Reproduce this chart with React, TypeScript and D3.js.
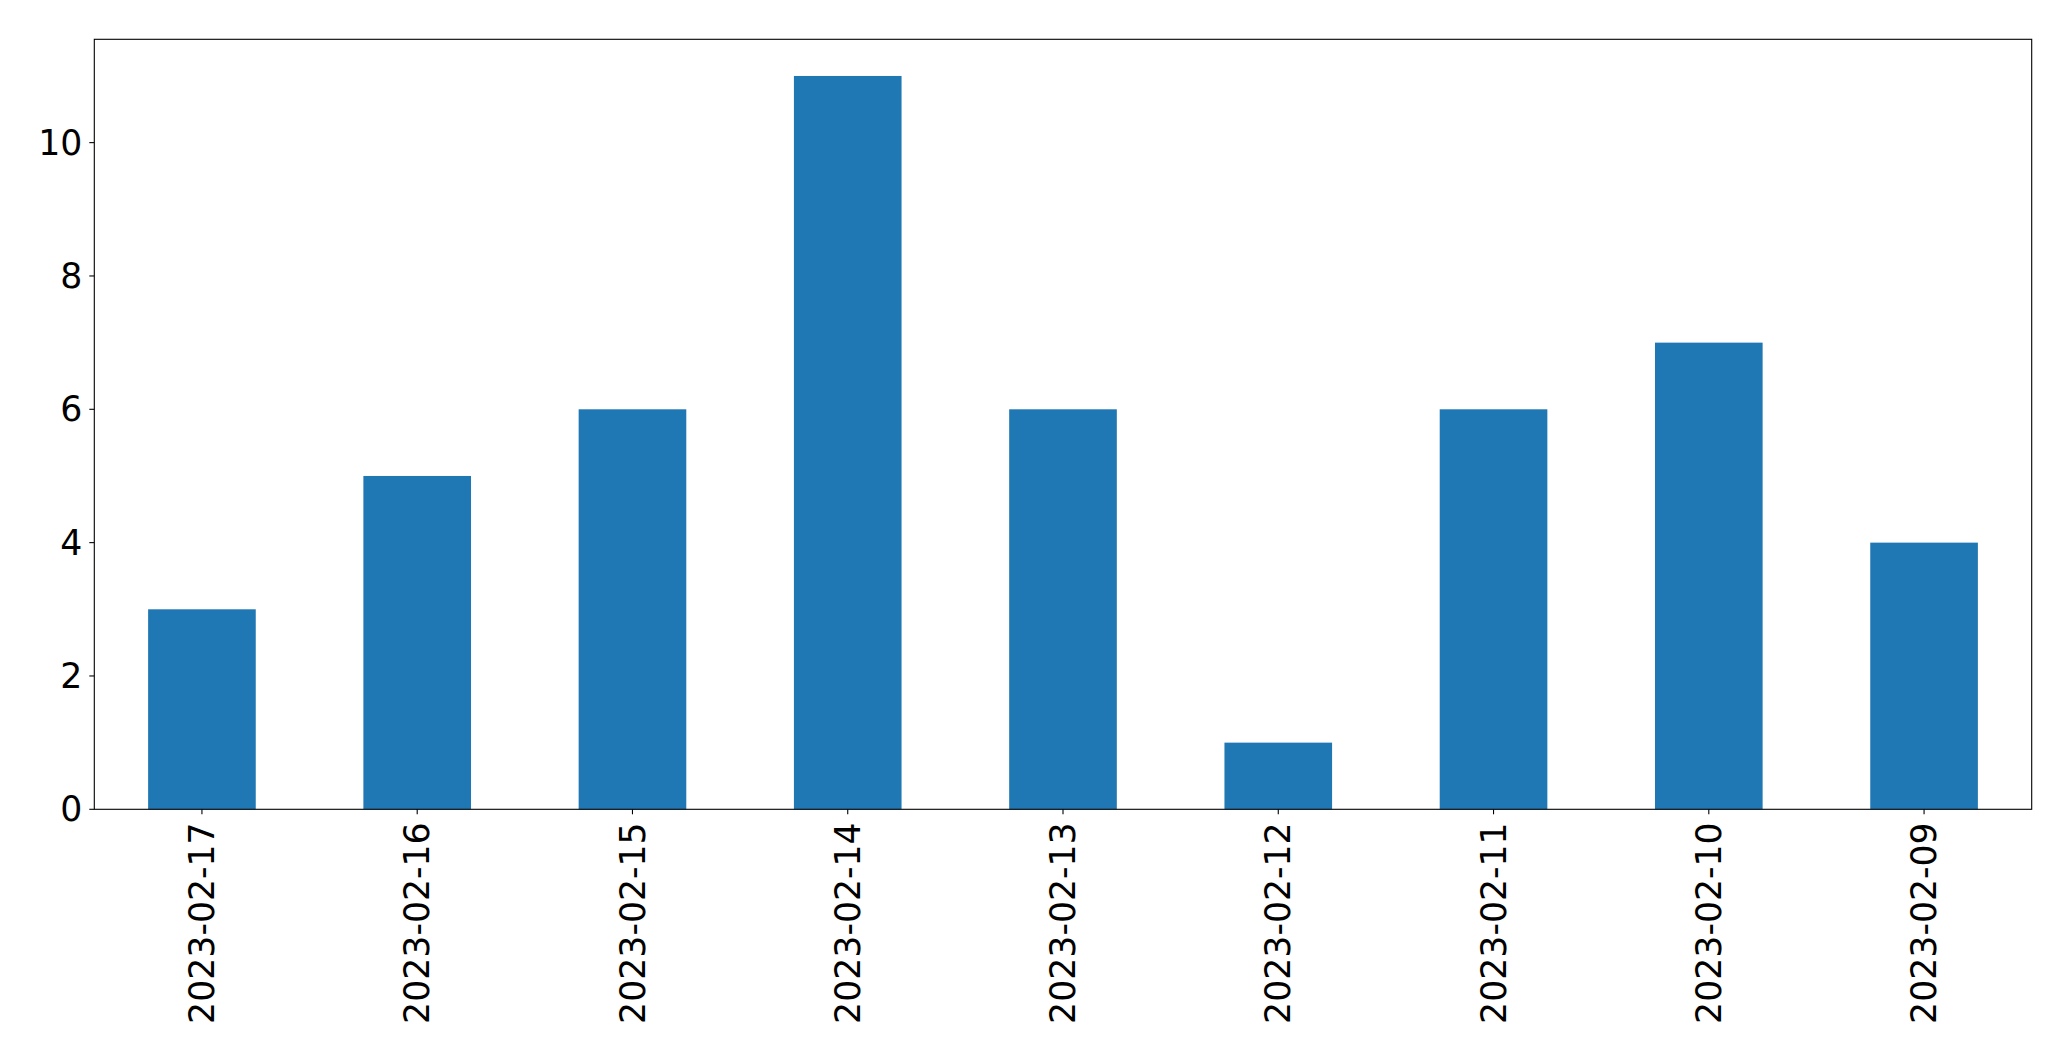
import React from "react";
import * as d3 from "d3";

const categories = ["2023-02-17","2023-02-16","2023-02-15","2023-02-14","2023-02-13","2023-02-12","2023-02-11","2023-02-10","2023-02-09"];
const values = [3,5,6,11,6,1,6,7,4];
const yTicks = [0,2,4,6,8,10];

const W = 2071, H = 1061;
const M = { left: 94.3, right: 2031.7, top: 39.3, bottom: 809.3 };

export default function App() {
  const x = d3.scaleLinear().domain([-0.5, categories.length - 0.5]).range([M.left, M.right]);
  const y = d3.scaleLinear().domain([0, d3.max(values)! * 1.05]).range([M.bottom, M.top]);
  const bw = x(0.25) - x(-0.25);
  const font = "'DejaVu Sans', sans-serif";
  const fs = 34.7;
  return (
    <svg width={W} height={H} style={{ position: "absolute", left: 0, top: 0, background: "#fff" }}>
      <rect x={0} y={0} width={W} height={H} fill="#fff" />
      {values.map((v, i) => (
        <rect key={i} x={x(i) - bw / 2} y={y(v)} width={bw} height={y(0) - y(v)} fill="#1f77b4" />
      ))}
      <rect x={M.left} y={M.top} width={M.right - M.left} height={M.bottom - M.top} fill="none" stroke="#000" strokeWidth={1.1} />
      {yTicks.map((t) => (
        <g key={t}>
          <line x1={M.left - 5} x2={M.left} y1={y(t)} y2={y(t)} stroke="#000" strokeWidth={1.1} />
          <text x={M.left - 12} y={y(t)} dy="0.35em" textAnchor="end" fontFamily={font} fontSize={fs} fill="#000">{t}</text>
        </g>
      ))}
      {categories.map((c, i) => (
        <g key={c}>
          <line x1={x(i)} x2={x(i)} y1={M.bottom} y2={M.bottom + 5} stroke="#000" strokeWidth={1.1} />
          <text transform={`translate(${x(i)},${M.bottom + 13}) rotate(-90)`} dy="0.35em" textAnchor="end" fontFamily={font} fontSize={fs} fill="#000">{c}</text>
        </g>
      ))}
    </svg>
  );
}
